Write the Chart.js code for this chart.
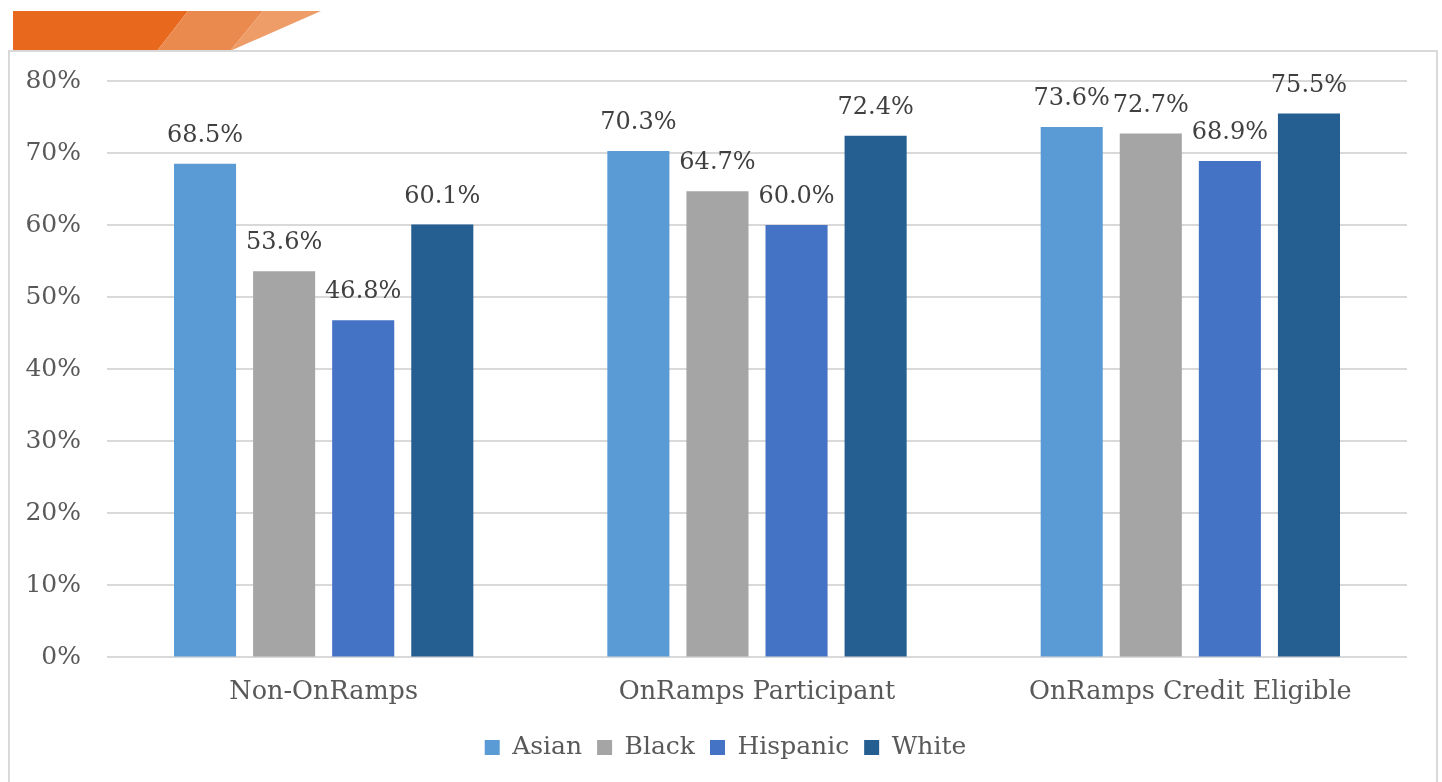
<!DOCTYPE html>
<html>
<head>
<meta charset="utf-8">
<script src="https://cdn.jsdelivr.net/npm/chart.js@4"></script>
<style>
  html, body { margin: 0; padding: 0; background: #fff; width: 1442px; height: 782px; overflow: hidden; }
  #banner { position: absolute; left: 0; top: 0; }
  #frame { position: absolute; left: 8px; top: 50px; width: 1426px; height: 740px; border: 2px solid #d9d9d9; background: #fff; }
  #wrap { position: absolute; left: 10px; top: 40px; width: 1424px; height: 742px; }
</style>
</head>
<body>
<svg id="banner" width="340" height="60">
  <polygon points="13,11 188,11 157,51 13,51" fill="#E8691E"/>
  <polygon points="188,11 263,11 230,51 157,51" fill="#EB8A4E"/>
  <polygon points="263,11 321,11 230,51" fill="#EE9D69"/>
</svg>
<div id="frame"></div>
<div id="wrap"><canvas id="c"></canvas></div>
<script>
const categories = ["Non-OnRamps", "OnRamps Participant", "OnRamps Credit Eligible"];
const seriesNames = ["Asian", "Black", "Hispanic", "White"];
const asian = [68.5, 70.3, 73.6];
const black = [53.6, 64.7, 72.7];
const hispanic = [46.8, 60.0, 68.9];
const white = [60.1, 72.4, 75.5];
const yTicks = [0, 10, 20, 30, 40, 50, 60, 70, 80];

const colors = ["#5B9BD5", "#A5A5A5", "#4472C4", "#255E91"];
const FONT = "'DejaVu Serif', 'Liberation Serif', serif";

const labelPlugin = {
  id: 'barLabels',
  afterLayout(chart) {
    if (chart.legend) { chart.legend.left += 17; chart.legend.right += 17; }
  },
  afterDatasetsDraw(chart) {
    const ctx = chart.ctx;
    ctx.save();
    ctx.font = "24px " + FONT;
    ctx.fillStyle = "#404040";
    ctx.textAlign = "center";
    ctx.textBaseline = "middle";
    chart.data.datasets.forEach((ds, i) => {
      const meta = chart.getDatasetMeta(i);
      meta.data.forEach((bar, j) => {
        ctx.fillText(ds.data[j].toFixed(1) + "%", bar.x, bar.y - 28);
      });
    });
    ctx.restore();
  }
};

const data = {
  labels: categories,
  datasets: [asian, black, hispanic, white].map((d, i) => ({
    label: seriesNames[i],
    data: d,
    backgroundColor: colors[i],
    borderWidth: 0,
    barPercentage: 0.785,
    categoryPercentage: 0.73
  }))
};

new Chart(document.getElementById('c'), {
  type: 'bar',
  data,
  plugins: [labelPlugin],
  options: {
    responsive: true,
    maintainAspectRatio: false,
    animation: false,
    layout: { padding: { top: 0, right: 27, left: 0, bottom: 12 } },
    plugins: {
      legend: {
        position: 'bottom',
        labels: {
          font: { family: FONT, size: 25 },
          color: "#595959",
          boxWidth: 15,
          boxHeight: 15,
          padding: 15
        }
      },
      tooltip: { enabled: false }
    },
    scales: {
      x: {
        grid: { display: false },
        border: { display: false },
        ticks: { font: { family: FONT, size: 25.5 }, color: "#595959", padding: 12 }
      },
      y: {
        min: 0, max: 80,
        afterBuildTicks(scale) { scale.ticks = yTicks.map(v => ({ value: v })); },
        afterFit(scale) { scale.width = 97; },
        grid: { color: "#d9d9d9", lineWidth: 2, drawTicks: false },
        border: { display: false },
        ticks: {
          font: { family: FONT, size: 25 }, color: "#595959", padding: 26,
          callback: v => v + "%"
        }
      }
    }
  }
});
</script>
</body>
</html>
